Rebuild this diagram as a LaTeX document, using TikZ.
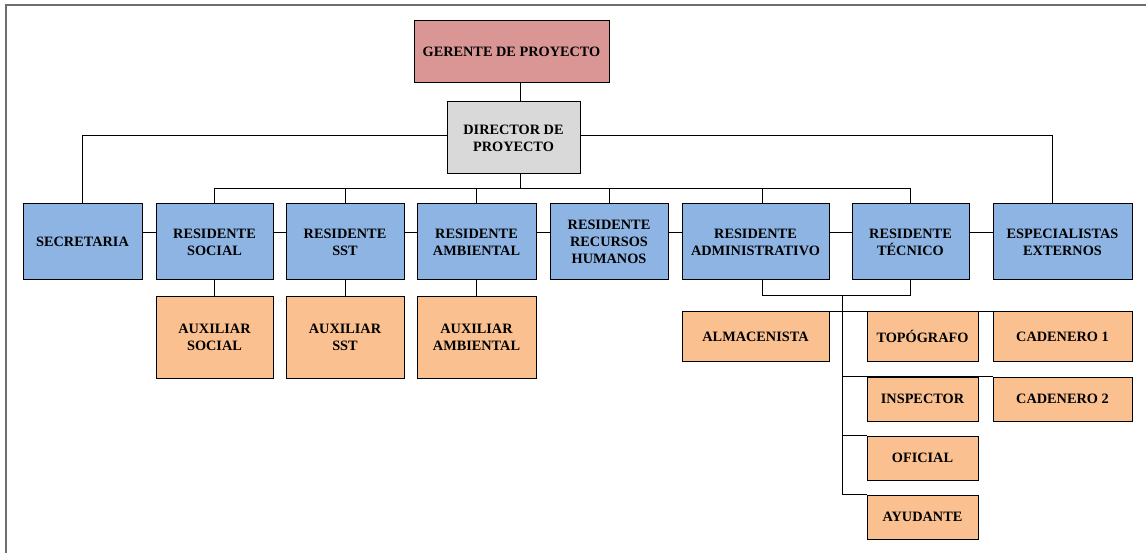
\documentclass[tikz,border=0pt]{standalone}
\usepackage{fontspec}
\setmainfont{Liberation Serif}
\usetikzlibrary{backgrounds}
\definecolor{gerc}{RGB}{218,150,148}
\definecolor{dirc}{RGB}{217,217,217}
\definecolor{bluec}{RGB}{141,180,226}
\definecolor{orc}{RGB}{250,192,144}
\definecolor{framec}{RGB}{110,110,110}
\tikzset{
  box/.style={draw=black, line width=1pt, inner sep=0pt, align=center,
    font=\bfseries\fontsize{14.3}{17}\selectfont, text=black},
  gerbox/.style={box, fill=gerc},
  dirbox/.style={box, fill=dirc},
  bbox/.style={box, fill=bluec},
  obox/.style={box, fill=orc},
  conn/.style={draw=black, line width=1pt},
}
\begin{document}
\begin{tikzpicture}[x=1pt, y=-1pt]
\useasboundingbox (0,0) rectangle (1146,553);
% top levels
\node[gerbox, minimum width=195, minimum height=62] (ger) at (511.5,52) {GERENTE DE PROYECTO};
\node[dirbox, minimum width=133, minimum height=72] (dir) at (513.5,138) {DIRECTOR DE\\PROYECTO};
% second row
\node[bbox, minimum width=119, minimum height=76] (sec) at (82.5,242) {SECRETARIA};
\node[bbox, minimum width=117, minimum height=76] (rsoc) at (214.5,242) {RESIDENTE\\SOCIAL};
\node[bbox, minimum width=118, minimum height=76] (rsst) at (345,242) {RESIDENTE\\SST};
\node[bbox, minimum width=119, minimum height=76] (ramb) at (476.5,242) {RESIDENTE\\AMBIENTAL};
\node[bbox, minimum width=118, minimum height=76] (rrhh) at (609,242) {RESIDENTE\\RECURSOS\\HUMANOS};
\node[bbox, minimum width=147, minimum height=76] (radm) at (755.5,242) {RESIDENTE\\ADMINISTRATIVO};
\node[bbox, minimum width=117, minimum height=76] (rtec) at (910.5,242) {RESIDENTE\\TÉCNICO};
\node[bbox, minimum width=139, minimum height=76] (esp) at (1062.5,242) {ESPECIALISTAS\\EXTERNOS};
% auxiliaries
\node[obox, minimum width=117, minimum height=81] (auxsoc) at (214.5,337.5) {AUXILIAR\\SOCIAL};
\node[obox, minimum width=118, minimum height=81] (auxsst) at (345,337.5) {AUXILIAR\\SST};
\node[obox, minimum width=119, minimum height=81] (auxamb) at (476.5,337.5) {AUXILIAR\\AMBIENTAL};
% technical staff
\node[obox, minimum width=147, minimum height=49] (alm) at (755.5,336.5) {ALMACENISTA};
\node[obox, minimum width=111, minimum height=49] (topo) at (922.5,336.5) {TOPÓGRAFO};
\node[obox, minimum width=139, minimum height=49] (cad1) at (1062.5,336.5) {CADENERO 1};
\node[obox, minimum width=111, minimum height=44] (insp) at (922.5,399) {INSPECTOR};
\node[obox, minimum width=139, minimum height=44] (cad2) at (1062.5,399) {CADENERO 2};
\node[obox, minimum width=111, minimum height=44] (ofi) at (922.5,458) {OFICIAL};
\node[obox, minimum width=111, minimum height=44] (ayu) at (922.5,517) {AYUDANTE};
% helper coordinates
\coordinate (trunk) at (520,189);
\coordinate (topl) at (0,136);
\coordinate (side) at (0,233);
\coordinate (espx) at (1052,0);
\coordinate (radmx) at (762,0);
\coordinate (brk) at (842,296);
\begin{scope}[on background layer]
  \draw[framec, line width=1.5pt] (6,553) -- (6,5) -- (1146,5);
  % gerente -> director
  \draw[conn] (ger.south -| trunk) -- (dir.north -| trunk);
  % director -> secretaria / especialistas
  \draw[conn] (sec.north) -- (sec.north |- topl) -- (espx |- topl) -- (espx |- esp.north);
  % director -> residentes
  \draw[conn] (dir.south -| trunk) -- (trunk);
  \draw[conn] (rsoc.north) -- (rsoc.north |- trunk) -- (rtec.north |- trunk) -- (rtec.north);
  \draw[conn] (rsst.north |- trunk) -- (rsst.north);
  \draw[conn] (ramb.north |- trunk) -- (ramb.north);
  \draw[conn] (rrhh.north |- trunk) -- (rrhh.north);
  \draw[conn] (radmx |- trunk) -- (radmx |- radm.north);
  % side line
  \draw[conn] (sec.center |- side) -- (esp.center |- side);
  % auxiliaries
  \draw[conn] (rsoc.south) -- (auxsoc.north);
  \draw[conn] (rsst.south) -- (auxsst.north);
  \draw[conn] (ramb.south) -- (auxamb.north);
  % bracket
  \draw[conn] (radmx |- radm.south) -- (radmx |- brk) -- (rtec.south |- brk) -- (rtec.south);
  \draw[conn] (brk) -- (brk |- ayu.north);
  \draw[conn] (alm.north east) -- (cad1.north west);
  \draw[conn] (brk |- insp.north) -- (cad2.north west);
  \draw[conn] (brk |- ofi.north) -- (ofi.north west);
  \draw[conn] (brk |- ayu.north) -- (ayu.north west);
\end{scope}
\end{tikzpicture}
\end{document}
